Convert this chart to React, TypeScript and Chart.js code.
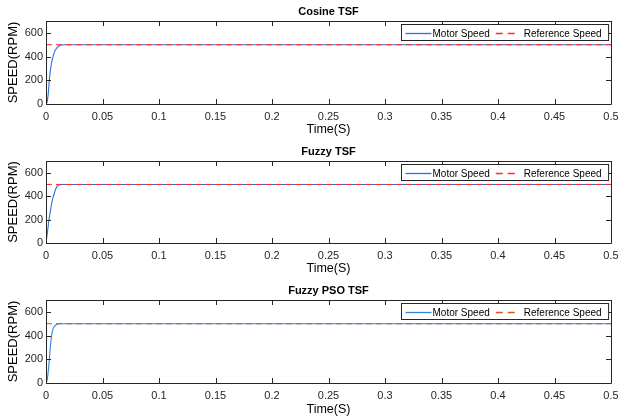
import React, { useEffect, useRef } from 'react';
import { Chart, registerables } from 'chart.js';

Chart.register(...registerables);

// ---------- data ----------
const timeS = [0, 0.001, 0.002, 0.003, 0.004, 0.005, 0.006, 0.007, 0.008, 0.009, 0.01, 0.012, 0.014, 0.016, 0.018, 0.02, 0.5];
const cosineSpeed = [0, 15, 90, 210, 290, 350, 392, 425, 448, 466, 478, 493, 498, 500, 500, 500, 500];
const fuzzySpeed = [0, 70, 150, 220, 280, 335, 380, 412, 445, 470, 485, 497, 500, 500, 500, 500, 500];
const psoSpeed = [0, 25, 100, 205, 320, 400, 450, 472, 484, 491, 495, 500, 500, 500, 500, 500, 500];
const refTime = [0, 0.5];
const refSpeed = [500, 500];
const panelTitles = ['Cosine TSF', 'Fuzzy TSF', 'Fuzzy PSO TSF'];
const seriesLabels = ['Motor Speed', 'Reference Speed'];
const xTitle = 'Time(S)';
const yTitle = 'SPEED(RPM)';

const FONT = '"Liberation Sans", Arial, Helvetica, sans-serif';
const AXIS = '#262626';

const panels = [
  { title: panelTitles[0], speed: cosineSpeed, motor: '#2f6fdc', ref: '#ff2a2a', top: 0, height: 139, padTop: 21, xH: 35 },
  { title: panelTitles[1], speed: fuzzySpeed, motor: '#2f6fdc', ref: '#ff2a2a', top: 139, height: 139, padTop: 22, xH: 35 },
  { title: panelTitles[2], speed: psoSpeed, motor: '#2f86d8', ref: '#d9531e', top: 278, height: 141, padTop: 22, xH: 36 },
];

const matlabPlugin = {
  id: 'matlabDecor',
  afterDatasetsDraw(chart: any, _args: any, opts: any) {
    const { ctx, chartArea: a } = chart;
    const xs = chart.scales.x;
    const ys = chart.scales.y;
    ctx.save();
    // box
    ctx.strokeStyle = AXIS;
    ctx.lineWidth = 1;
    ctx.beginPath();
    ctx.rect(Math.round(a.left) + 0.5, Math.round(a.top) + 0.5, Math.round(a.right - a.left), Math.round(a.bottom - a.top));
    ctx.stroke();
    // inward ticks
    const tl = 5;
    ctx.beginPath();
    xs.ticks.forEach((t: any) => {
      const x = Math.round(xs.getPixelForValue(t.value)) + 0.5;
      ctx.moveTo(x, a.bottom);
      ctx.lineTo(x, a.bottom - tl);
      ctx.moveTo(x, a.top);
      ctx.lineTo(x, a.top + tl);
    });
    ys.ticks.forEach((t: any) => {
      const y = Math.round(ys.getPixelForValue(t.value)) + 0.5;
      ctx.moveTo(a.left, y);
      ctx.lineTo(a.left + tl, y);
      ctx.moveTo(a.right, y);
      ctx.lineTo(a.right - tl, y);
    });
    ctx.stroke();

    // legend
    const ds = chart.data.datasets;
    ctx.font = `10px ${FONT}`;
    const w1 = ctx.measureText(ds[0].label).width;
    const w2 = ctx.measureText(ds[1].label).width;
    const boxW = 4 + 26 + 1 + w1 + 6 + 23 + 5 + w2 + 7;
    const boxH = 16;
    const bx = Math.round(a.right - 3 - boxW) + 0.5;
    const by = Math.round(a.top + 3) + 0.5;
    ctx.fillStyle = '#ffffff';
    ctx.fillRect(bx, by, boxW, boxH);
    ctx.strokeStyle = AXIS;
    ctx.strokeRect(bx, by, boxW, boxH);
    const cy = Math.round(by + boxH / 2) + 0.5;
    let cx = bx + 4;
    ctx.lineWidth = 1.3;
    ctx.strokeStyle = String(ds[0].borderColor);
    ctx.beginPath();
    ctx.moveTo(cx, cy);
    ctx.lineTo(cx + 26, cy);
    ctx.stroke();
    cx += 26 + 1;
    ctx.fillStyle = '#000';
    ctx.textBaseline = 'middle';
    ctx.textAlign = 'left';
    ctx.fillText(ds[0].label, cx, cy + 0.5);
    cx += w1 + 6;
    ctx.strokeStyle = String(ds[1].borderColor);
    ctx.setLineDash([7, 5]);
    ctx.beginPath();
    ctx.moveTo(cx, cy);
    ctx.lineTo(cx + 23, cy);
    ctx.stroke();
    ctx.setLineDash([]);
    cx += 23 + 5;
    ctx.fillText(ds[1].label, cx, cy + 0.5);

    // title
    ctx.font = `bold 11px ${FONT}`;
    ctx.textAlign = 'center';
    ctx.fillStyle = '#000';
    ctx.fillText(opts.title, (a.left + a.right) / 2, a.top - 9);
    ctx.restore();
  },
};

const fmtTick = (v: number | string) => String(Number(Number(v).toFixed(3)));

function Panel({ p }: { p: (typeof panels)[number] }) {
  const ref = useRef<HTMLCanvasElement | null>(null);
  useEffect(() => {
    if (!ref.current) return;
    const chart = new Chart(ref.current, {
      type: 'line',
      data: {
        datasets: [
          {
            label: seriesLabels[0],
            data: timeS.map((t, i) => ({ x: t, y: p.speed[i] })),
            borderColor: p.motor,
            borderWidth: 1.1,
            pointRadius: 0,
            cubicInterpolationMode: 'monotone',
            order: 1,
          },
          {
            label: seriesLabels[1],
            data: refTime.map((t, i) => ({ x: t, y: refSpeed[i] })),
            borderColor: p.ref,
            borderWidth: 1,
            borderDash: [6, 4],
            pointRadius: 0,
            order: 0,
          },
        ],
      },
      options: {
        responsive: false,
        animation: false,
        events: [],
        layout: { padding: { top: p.padTop, left: 0, right: 0, bottom: 0 } },
        plugins: {
          legend: { display: false },
          tooltip: { enabled: false },
          title: { display: false },
          matlabDecor: { title: p.title },
        } as any,
        scales: {
          x: {
            type: 'linear',
            min: 0,
            max: 0.5,
            ticks: { stepSize: 0.05, padding: 6, color: AXIS, font: { size: 11, family: FONT }, maxRotation: 0, autoSkip: false, callback: fmtTick },
            grid: { display: false, drawTicks: false },
            border: { display: false },
            title: { display: true, text: xTitle, color: '#000', font: { size: 12.5, family: FONT }, padding: { top: 0, bottom: 2 } },
            afterFit: (s: any) => { s.height = p.xH; s.paddingLeft = 0; s.paddingRight = 7; },
          },
          y: {
            type: 'linear',
            min: 0,
            max: 700,
            ticks: { stepSize: 200, includeBounds: false, padding: 3, color: AXIS, font: { size: 11, family: FONT } },
            grid: { display: false, drawTicks: false },
            border: { display: false },
            title: { display: true, text: yTitle, color: '#000', font: { size: 13, family: FONT }, padding: { top: 6, bottom: 0 } },
            afterFit: (s: any) => { s.width = 46; s.paddingTop = 0; s.paddingBottom = 0; },
          },
        },
      } as any,
      plugins: [matlabPlugin],
    });
    return () => chart.destroy();
  }, [p]);
  return (
    <canvas
      ref={ref}
      width={618}
      height={p.height}
      style={{ position: 'absolute', left: 0, top: p.top, width: 618, height: p.height }}
    />
  );
}

export default function App() {
  return (
    <div style={{ position: 'absolute', left: 0, top: 0, width: 618, height: 419, background: '#fff', overflow: 'hidden' }}>
      {panels.map((p) => (
        <Panel key={p.title} p={p} />
      ))}
    </div>
  );
}
